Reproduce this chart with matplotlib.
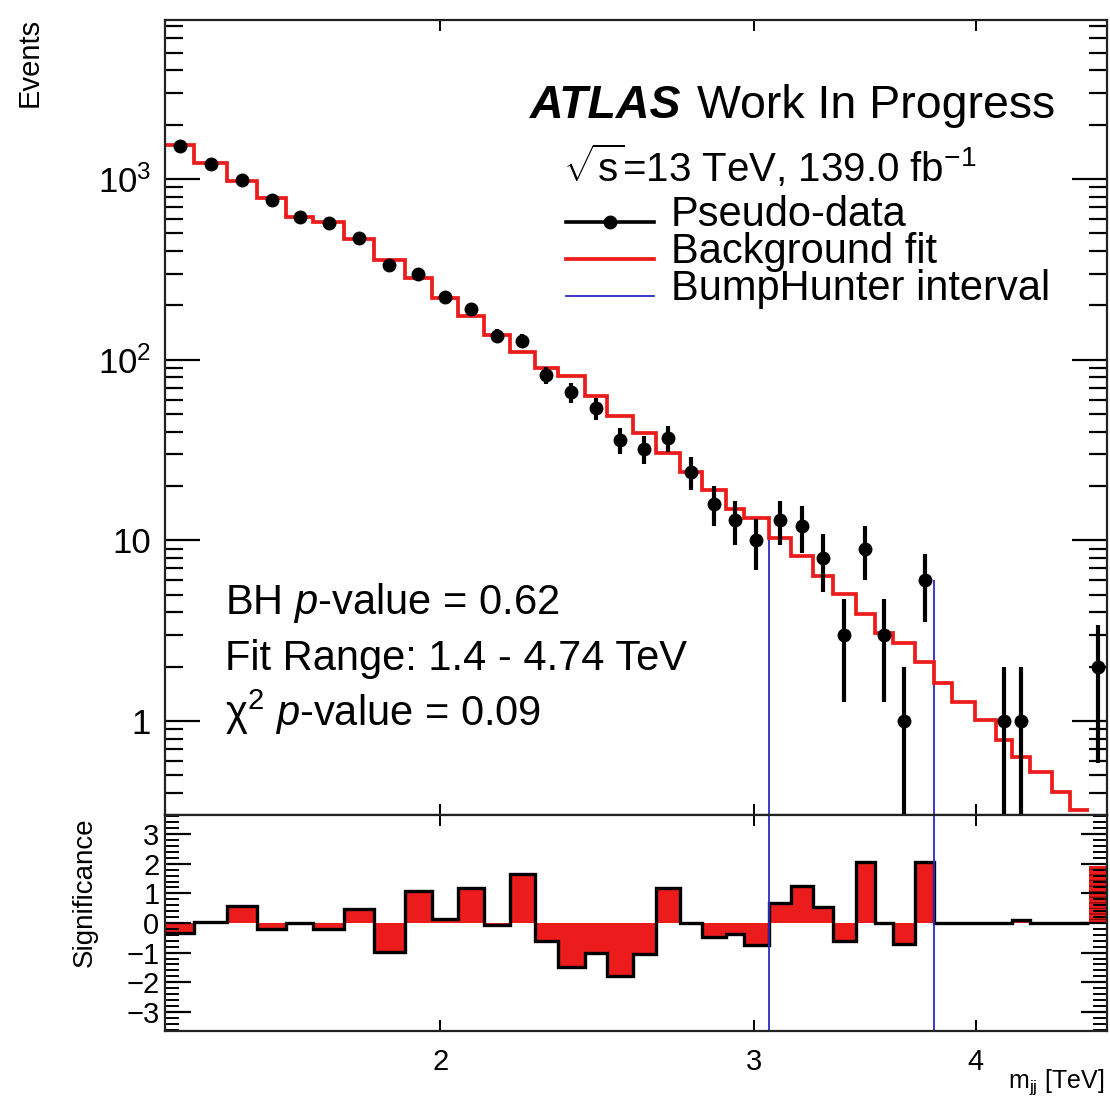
import numpy as np
import matplotlib
matplotlib.use('Agg')
import matplotlib.pyplot as plt
from matplotlib.lines import Line2D
from matplotlib.ticker import FixedLocator, NullLocator, MultipleLocator, LogLocator, NullFormatter, FixedFormatter

plt.rcParams['font.family'] = ['Liberation Sans', 'DejaVu Sans']
plt.rcParams['mathtext.fontset'] = 'custom'
plt.rcParams['mathtext.rm'] = 'Liberation Sans'
plt.rcParams['mathtext.it'] = 'Liberation Sans:italic'
plt.rcParams['mathtext.bf'] = 'Liberation Sans:bold'
plt.rcParams['hatch.color'] = '#8a0a0a'

# bin edges in TeV
bin_edges = [1.400, 1.454, 1.517, 1.577, 1.638, 1.696, 1.766, 1.834, 1.909, 1.977,
             2.045, 2.115, 2.187, 2.259, 2.328, 2.411, 2.480, 2.566, 2.643, 2.727,
             2.806, 2.893, 2.963, 3.059, 3.147, 3.238, 3.323, 3.424, 3.509, 3.592,
             3.699, 3.791, 3.880, 3.993, 4.108, 4.192, 4.291, 4.412, 4.516, 4.632,
             4.740]

pseudo_data = [1525, 1205, 985, 765, 615, 573, 470, 335, 298, 223,
               192, 136, 127, 82, 66, 54, 36, 32, 37, 24,
               16, 13, 10, 13, 12, 8, 3, 9, 3, 1,
               6, 0, 0, 0, 1, 1, 0, 0, 0, 2]

# background fit (no value drawn for the last bin)
bkg_fit = [1542, 1222, 975, 782, 618, 580, 464, 357, 284, 220,
           175, 137, 110, 89.6, 81.2, 63, 49, 39.1, 30.3, 24.0,
           19.0, 15.0, 13.3, 10.3, 8.24, 6.35, 5.03, 3.91, 3.06, 2.71,
           2.12, 1.63, 1.28, 1.01, 0.785, 0.634, 0.524, 0.406, 0.321]

significance = [-0.34, 0.02, 0.57, -0.21, 0.0, -0.21, 0.49, -0.98, 1.09, 0.15,
                1.17, -0.08, 1.66, -0.62, -1.49, -1.01, -1.79, -1.06, 1.17, 0.0,
                -0.47, -0.36, -0.76, 0.66, 1.24, 0.54, -0.61, 2.07, 0.0, -0.70,
                2.07, 0.0, 0.0, 0.0, 0.0, 0.11, 0.0, 0.0, 0.0, 1.92]

bh_interval = (3.059, 3.791)

RED = '#ec1c1c'
BLUE = '#2a2ac0'

edges = np.array(bin_edges)
data = np.array(pseudo_data, dtype=float)
fit = np.array(bkg_fit)
sig = np.array(significance)
nfit = len(fit)

fig = plt.figure(figsize=(11.10, 11.04), dpi=100)
W, H = 1110.0, 1104.0
ax = fig.add_axes([165 / W, 1 - 815 / H, 942 / W, 795 / H])
rax = fig.add_axes([165 / W, 1 - 1031 / H, 942 / W, 216 / H], sharex=ax)

ymin, ymax = 0.302, 7590

# ---- main panel ----
ax.stairs(fit, edges[:nfit + 1], color=RED, lw=2.7, baseline=None, zorder=2)

centers = np.sqrt(edges[:-1] * edges[1:])
m = data > 0
err = np.sqrt(data[m])
lo = np.minimum(err, data[m] - 1e-3)
ax.errorbar(centers[m], data[m], yerr=[lo, err], fmt='o', color='black',
            ms=9, elinewidth=3, capsize=0, zorder=3)

i_lo = int(np.searchsorted(edges, bh_interval[0] - 1e-6))
i_hi = int(np.searchsorted(edges, bh_interval[1] - 1e-6)) - 1
ax.vlines([bh_interval[0], bh_interval[1]], ymin, [data[i_lo], data[i_hi]],
          color=BLUE, lw=1.3, zorder=1)

ax.set_xscale('log')
ax.set_yscale('log')
ax.set_xlim(edges[0], edges[-1])
ax.set_ylim(ymin, ymax)

ax.yaxis.set_major_locator(FixedLocator([1, 10, 100, 1000]))
ax.yaxis.set_major_formatter(FixedFormatter(['1', '10', r'$10^{2}$', r'$10^{3}$']))
ax.yaxis.set_minor_locator(LogLocator(base=10, subs=np.arange(2, 10)))
ax.yaxis.set_minor_formatter(NullFormatter())

ax.tick_params(axis='y', which='major', direction='in', length=25, width=1.6,
               left=True, right=True, labelsize=25, pad=10)
ax.tick_params(axis='y', which='minor', direction='in', length=13, width=1.6,
               left=True, right=True)
ax.tick_params(axis='x', which='major', direction='in', length=8, width=1.4,
               top=True, bottom=True, labelbottom=False)

fig.text(30 / W, 1 - 18 / H, 'Events', rotation=90, ha='center', va='top',
         fontsize=21)

# ATLAS label
fig.text(530 / W, 1 - 118 / H, 'ATLAS', fontsize=33.5, fontweight='bold',
         fontstyle='italic', va='baseline', ha='left')
fig.text(697 / W, 1 - 118 / H, 'Work In Progress', fontsize=33.5,
         va='baseline', ha='left')
fig.text(563 / W, 1 - 182 / H, r'$\sqrt{\mathrm{s}}$=13 TeV, 139.0 fb$^{-1}$',
         fontsize=29, va='baseline', ha='left')

# legend
leg_rows = [('Pseudo-data', 'black', 2.6, True),
            ('Background fit', RED, 2.7, False),
            ('BumpHunter interval', BLUE, 1.3, False)]
for k, (lab, col, lw, mk) in enumerate(leg_rows):
    yb = 226 + 37 * k
    yl = 1 - (yb - 4) / H
    fig.add_artist(Line2D([566 / W, 654 / W], [yl, yl], color=col, lw=lw,
                          transform=fig.transFigure))
    if mk:
        fig.add_artist(Line2D([610 / W], [yl], marker='o', ms=9, color=col,
                              transform=fig.transFigure))
    fig.text(671 / W, 1 - yb / H, lab, fontsize=30, va='baseline', ha='left')

fig.text(225 / W, 1 - 614 / H, r'BH $p$-value = 0.62', fontsize=30, va='baseline')
fig.text(225 / W, 1 - 670 / H, 'Fit Range: 1.4 - 4.74 TeV', fontsize=30, va='baseline')
fig.text(225 / W, 1 - 726 / H, r'χ$^{2}$ $p$-value = 0.09', fontsize=30, va='baseline')

# ---- significance panel ----
rax.stairs(sig[:nfit], edges[:nfit + 1], fill=True, baseline=0, color=RED, lw=0)
rax.stairs(sig[:nfit], edges[:nfit + 1], color='black', lw=2.4, baseline=None)
rax.stairs(sig[nfit:], edges[nfit:], fill=True, baseline=0, facecolor=RED,
           edgecolor='#8a0a0a', hatch='---', lw=0)
rax.axvline(bh_interval[0], color=BLUE, lw=1.3)
rax.axvline(bh_interval[1], color=BLUE, lw=1.3)

rax.set_ylim(-3.65, 3.65)
rax.xaxis.set_major_locator(FixedLocator([2, 3, 4]))
rax.xaxis.set_major_formatter(FixedFormatter(['2', '3', '4']))
rax.xaxis.set_minor_locator(NullLocator())
rax.yaxis.set_major_locator(MultipleLocator(1))
rax.yaxis.set_minor_locator(MultipleLocator(0.2))

rax.tick_params(axis='y', which='major', direction='in', length=19, width=1.6,
                left=True, right=True, labelsize=21, pad=4)
rax.tick_params(axis='y', which='minor', direction='in', length=10, width=1.4,
                left=True, right=True)
rax.tick_params(axis='x', which='major', direction='in', length=8, width=1.4,
                top=True, bottom=True, labelsize=21, pad=12)

fig.text(85 / W, 1 - 892 / H, 'Significance', rotation=90, ha='center',
         va='center', fontsize=20)
fig.text(1104 / W, 1 - 1088 / H, r'm$_{\rm jj}$ [TeV]', ha='right',
         va='baseline', fontsize=18)

for a in (ax, rax):
    for s in a.spines.values():
        s.set_linewidth(1.6)
        s.set_color('#222222')

fig.savefig('out.png', dpi=100)
